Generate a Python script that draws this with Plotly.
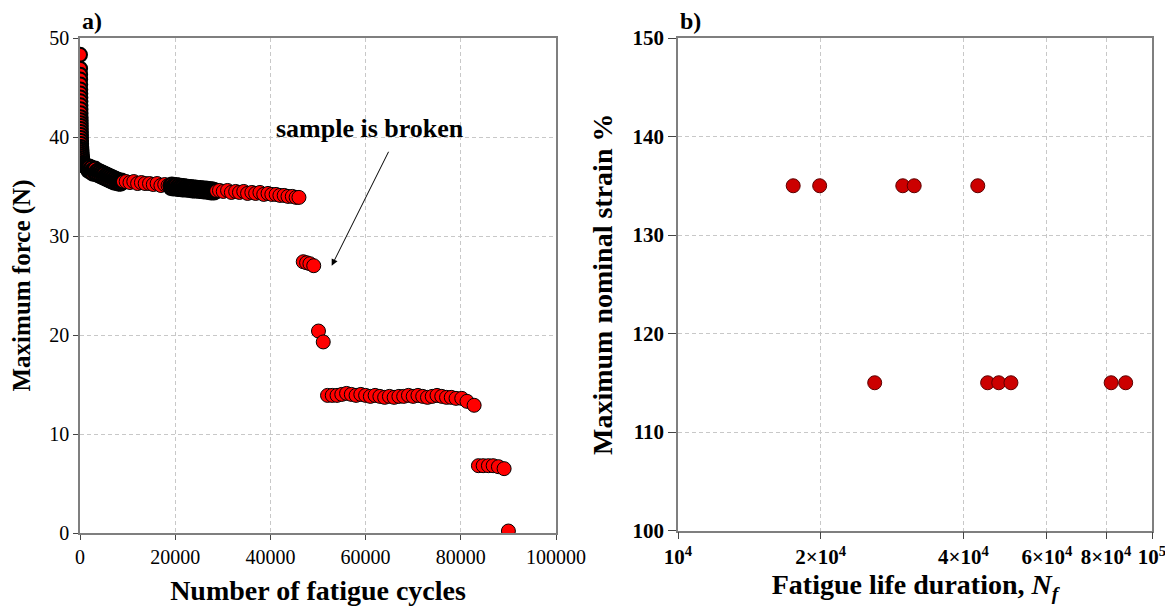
import plotly.graph_objects as go

# ---------------- data: panel a) (maximum force vs. number of cycles) ----------------
# initial drop
drop_cycles = [0, 20, 30, 40, 50, 60, 70, 80, 90, 100, 110, 120, 130, 140, 150, 160, 170, 180,
               190, 200, 220, 240, 260, 280, 300, 330, 360, 400, 450, 520, 600, 700, 850, 1000,
               1200, 1400]
drop_force = [48.3, 46.9, 46.3, 45.8, 45.3, 44.8, 44.4, 44.0, 43.6, 43.2, 42.8, 42.4, 42.0, 41.7,
              41.4, 41.1, 40.8, 40.5, 40.2, 39.9, 39.6, 39.3, 39.0, 38.8, 38.6, 38.4, 38.2, 38.0,
              37.8, 37.6, 37.4, 37.3, 37.2, 37.1, 37.0, 36.9]
# densely recorded part 1
dense1_cycles = [1650, 1800, 1950, 2100, 2250, 2400, 2550, 2700, 2850, 3000, 3150, 3300, 3450,
                 3600, 3750, 3900, 4050, 4200, 4350, 4500, 4650, 4800, 4950, 5100, 5250, 5400,
                 5550, 5700, 5850, 6000, 6150, 6300, 6450, 6600, 6750, 6900, 7050, 7200, 7350,
                 7500, 7650, 7800, 7950, 8100, 8250, 8400, 8550, 8700, 8850, 9000]
dense1_force = [36.9, 36.6, 37.0, 36.7, 36.5, 36.9, 36.6, 36.3, 36.7, 36.5, 36.8, 36.3, 36.5,
                36.2, 36.6, 36.4, 36.1, 36.5, 36.3, 36.0, 36.4, 36.2, 35.9, 36.3, 36.0, 35.8,
                36.2, 36.0, 35.7, 36.1, 35.9, 35.6, 36.0, 35.8, 35.5, 35.9, 35.7, 35.4, 35.8,
                35.6, 35.4, 35.7, 35.5, 35.3, 35.6, 35.4, 35.3, 35.6, 35.4, 35.5]
# sparsely recorded part 1
sparse1_cycles = [9700, 10500, 11300, 12100, 12900, 13700, 14600, 15400, 16200, 17000, 17800, 18500]
sparse1_force = [35.5, 35.4, 35.5, 35.3, 35.4, 35.3, 35.3, 35.2, 35.3, 35.1, 35.2, 35.1]
# densely recorded part 2
dense2_cycles = [19000, 19150, 19300, 19450, 19600, 19750, 19900, 20050, 20200, 20350, 20500,
                 20650, 20800, 20950, 21100, 21250, 21400, 21550, 21700, 21850, 22000, 22150,
                 22300, 22450, 22600, 22750, 22900, 23050, 23200, 23350, 23500, 23650, 23800,
                 23950, 24100, 24250, 24400, 24550, 24700, 24850, 25000, 25150, 25300, 25450,
                 25600, 25750, 25900, 26050, 26200, 26350, 26500, 26650, 26800, 26950, 27100,
                 27250, 27400, 27550, 27700, 27850, 28000, 28150, 28300, 28450, 28600]
dense2_force = [35.1, 34.85, 35.2, 34.95, 34.8, 35.1, 34.95, 34.85, 35.15, 34.8, 35.0,
                34.75, 35.1, 34.9, 34.75, 35.05, 34.85, 34.7, 35.05, 34.8, 34.95, 34.7,
                35.0, 34.85, 34.7, 34.95, 34.8, 34.65, 34.95, 34.75, 34.9, 34.6, 34.9,
                34.75, 34.6, 34.9, 34.7, 34.6, 34.85, 34.65, 34.8, 34.55, 34.85, 34.7,
                34.55, 34.8, 34.65, 34.5, 34.8, 34.6, 34.75, 34.5, 34.75, 34.6, 34.45,
                34.7, 34.55, 34.4, 34.7, 34.5, 34.65, 34.4, 34.6, 34.5, 34.55]
# sparsely recorded part 2 and the broken sample
late_cycles = [29300, 30100, 31000, 31800, 32700, 33500, 34400, 35200, 36100, 36900, 37800,
               38600, 39500, 40300, 41200, 42000, 42900, 43700, 44600, 45400, 46000,
               46900, 47600, 48300, 49100,
               50100, 51100,
               52000, 53000, 54000, 55000, 56000, 57000, 58000, 59000, 60000, 61000, 62000,
               63000, 64000, 65000, 66000, 67000, 68000, 69000, 70000, 71000, 72000, 73000,
               74000, 75000, 76000, 77000, 78000, 79000, 80200, 81300, 82800,
               83700, 84700, 85800, 86800, 87900, 89100,
               90000]
late_force = [34.6, 34.5, 34.6, 34.4, 34.5, 34.4, 34.5, 34.3, 34.4, 34.3, 34.4,
              34.2, 34.3, 34.2, 34.2, 34.1, 34.1, 34.0, 34.0, 33.9, 33.9,
              27.4, 27.3, 27.2, 27.0,
              20.4, 19.3,
              13.9, 13.9, 13.9, 14.0, 14.1, 14.0, 13.9, 14.0, 13.9, 13.8, 13.9,
              13.8, 13.7, 13.8, 13.7, 13.8, 13.8, 13.9, 13.8, 13.9, 13.8, 13.7,
              13.8, 13.9, 13.8, 13.7, 13.7, 13.6, 13.6, 13.3, 12.9,
              6.8, 6.8, 6.8, 6.8, 6.7, 6.5,
              0.2]

# ---------------- data: panel b) ----------------
fatigue_life = [17500, 19900, 29800, 31500, 42900, 26000, 45000, 47500, 50400, 82000, 88000]
max_strain = [135, 135, 135, 135, 135, 115, 115, 115, 115, 115, 115]

x_ticks_a = [0, 20000, 40000, 60000, 80000, 100000]
y_ticks_a = [0, 10, 20, 30, 40, 50]
x_ticks_b = [1e4, 2e4, 4e4, 6e4, 8e4, 1e5]
x_ticktext_b = ["10<sup>4</sup>", "2×10<sup>4</sup>", "4×10<sup>4</sup>",
                "6×10<sup>4</sup>", "8×10<sup>4</sup>", "10<sup>5</sup>"]
y_ticks_b = [100, 110, 120, 130, 140, 150]

FONT = "Liberation Serif"
W, H = 1173, 615
ML, MR, MT, MB = 72, 29, 30, 90
PW = W - ML - MR
PH = H - MT - MB

fig = go.Figure()
segments = [
    (drop_cycles, drop_force, 2.0),
    (dense1_cycles, dense1_force, 2.2),
    (sparse1_cycles, sparse1_force, 1.0),
    (dense2_cycles, dense2_force, 2.2),
    (late_cycles, late_force, 1.0),
]
for xs, ys, lw in segments:
    fig.add_trace(go.Scatter(
        x=xs, y=ys, mode="markers", xaxis="x", yaxis="y",
        marker=dict(size=14, color="#ff0000", line=dict(color="#000000", width=lw)),
        showlegend=False,
    ))
fig.add_trace(go.Scatter(
    x=fatigue_life, y=max_strain, mode="markers", xaxis="x2", yaxis="y2",
    marker=dict(size=14, color="#cc0000", line=dict(color="#5a0000", width=1)),
    showlegend=False,
))

axis_common = dict(
    showgrid=True, gridcolor="#c8c8c8", griddash="4px,3px", gridwidth=1,
    showline=True, linecolor="#7f7f7f", linewidth=1.5, mirror=True,
    ticks="outside", tickcolor="#444444", zeroline=False, automargin=False,
)

fig.update_layout(
    width=W, height=H,
    margin=dict(l=ML, r=MR, t=MT, b=MB),
    paper_bgcolor="white", plot_bgcolor="white",
    font=dict(family=FONT, color="black"),
    xaxis=dict(
        domain=[0, 476 / PW], range=[0, 100000], anchor="y",
        tickvals=x_ticks_a, ticktext=[str(v) for v in x_ticks_a], ticklen=5,
        tickfont=dict(size=20, family=FONT, color="black"),
        title=dict(text="Number of fatigue cycles", standoff=14,
                   font=dict(size=28, family=FONT, weight="bold", color="black")),
        **axis_common,
    ),
    yaxis=dict(
        domain=[0, 1], range=[0, 50], anchor="x",
        tickvals=y_ticks_a, ticktext=[str(v) for v in y_ticks_a], ticklen=5,
        tickfont=dict(size=20, family=FONT, color="black"),
        title=dict(text="Maximum force (N)", standoff=14,
                   font=dict(size=25, family=FONT, weight="bold", color="black")),
        **axis_common,
    ),
    xaxis2=dict(
        type="log", domain=[598 / PW, 1], range=[4, 5], anchor="y2",
        tickvals=x_ticks_b, ticktext=x_ticktext_b, ticklen=7,
        tickfont=dict(size=21, family=FONT, weight="bold", color="black"),
        title=dict(text="Fatigue life duration, <i>N</i><sub><i>f</i></sub>", standoff=6,
                   font=dict(size=28, family=FONT, weight="bold", color="black")),
        **axis_common,
    ),
    yaxis2=dict(
        domain=[2.5 / PH, 1], range=[100, 150], anchor="x2",
        tickvals=y_ticks_b, ticktext=[str(v) for v in y_ticks_b], ticklen=8,
        tickfont=dict(size=21, family=FONT, weight="bold", color="black"),
        title=dict(text="Maximum nominal strain %", standoff=12,
                   font=dict(size=28, family=FONT, weight="bold", color="black")),
        **axis_common,
    ),
)

fig.add_annotation(text="<b>a)</b>", xref="x domain", yref="y domain",
                   x=0, y=1, xanchor="left", yanchor="bottom", yshift=2,
                   showarrow=False, font=dict(size=24, family=FONT, color="black"))
fig.add_annotation(text="<b>b)</b>", xref="x2 domain", yref="y2 domain",
                   x=0, y=1, xanchor="left", yanchor="bottom", yshift=2,
                   showarrow=False, font=dict(size=24, family=FONT, color="black"))
fig.add_annotation(text="<b>sample is broken</b>", xref="x", yref="y",
                   x=60900, y=40.85, xanchor="center", yanchor="middle",
                   showarrow=False, font=dict(size=26, family=FONT, color="black"))
fig.add_annotation(text="", xref="x", yref="y", x=52880, y=27.0,
                   axref="x", ayref="y", ax=64980, ay=38.66,
                   showarrow=True, arrowhead=2, arrowsize=1.3, arrowwidth=1,
                   arrowcolor="black", standoff=0)

fig.write_html("out.html")
